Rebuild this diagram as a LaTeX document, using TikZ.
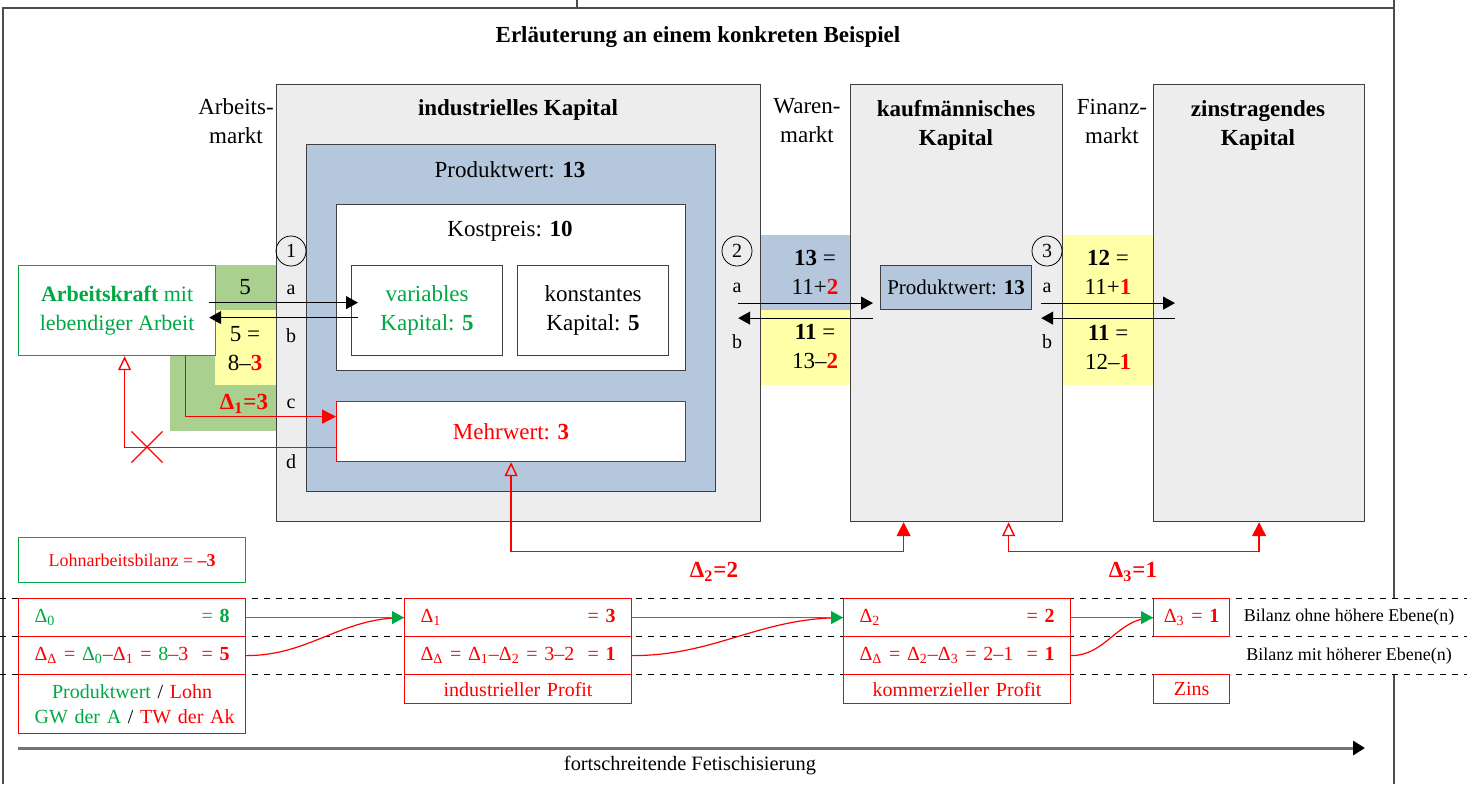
\documentclass[tikz,border=0pt]{standalone}
\usepackage{fontspec}
\setmainfont{Liberation Serif}
\usetikzlibrary{arrows.meta}
\usetikzlibrary{positioning}
\usetikzlibrary{shapes.misc}

\definecolor{kapgrau}{HTML}{EDEDED}
\definecolor{pwblau}{HTML}{B4C7DC}
\definecolor{akgruen}{HTML}{A9D08E}
\definecolor{bgelb}{HTML}{FFFFA8}
\definecolor{tgruen}{HTML}{00A844}
\definecolor{rot}{HTML}{FF0000}

\newcommand{\grund}{\fontsize{11.5}{14.5}\selectfont}
\newcommand{\dsub}[1]{Δ\textsubscript{#1}}

\tikzset{
  every node/.style={font=\grund},
  fett/.style={font=\grund\bfseries},
  klein/.style={font=\fontsize{9}{11}\selectfont},
  groesse/.style 2 args={minimum width=#1*0.5pt, minimum height=#2*0.5pt},
  kasten/.style={draw=black!75, line width=0.6pt, inner sep=0pt, anchor=north west},
  zelle/.style={draw=rot, line width=0.6pt, fill=white, text=rot, anchor=north west,
    font=\fontsize{10}{12.5}\selectfont,
    inner xsep=8pt, inner ysep=0pt, text width=97.5pt, minimum height=19pt},
  schmal/.style={zelle, inner xsep=0pt, text width=38pt, align=center},
  nummer/.style={draw, circle, minimum size=15pt, inner sep=0pt, font=\fontsize{10}{12}\selectfont},
  buchst/.style={font=\fontsize{10}{12}\selectfont},
  pfeil/.style={line width=0.6pt, -{Triangle[length=6pt,width=6.5pt]}},
  rpfeil/.style={color=rot, line width=0.7pt, -{Triangle[length=7pt,width=7pt]}},
  opfeil/.style={color=rot, line width=0.7pt, -{Triangle[open,length=7pt,width=6.5pt]}},
  gpfeil/.style={color=tgruen, line width=0.6pt, -{Triangle[length=6pt,width=6.5pt]}},
  profit/.style={color=rot, line width=0.7pt, {Triangle[open,length=7pt,width=6.5pt]}-{Triangle[length=7pt,width=7pt]}},
}

\begin{document}
\begin{tikzpicture}[x=0.5pt, y=-0.5pt]
  \useasboundingbox (0,0) rectangle (1467,784);

  % Rahmen
  \draw[black!70, line width=0.8pt] (577,0) -- (577,8);
  \draw[black!70, line width=0.8pt] (3,784) -- (3,8) -- (1394,8);
  \draw[black!70, line width=0.8pt] (1394,0) -- (1394,598);
  \draw[black!70, line width=0.8pt] (1394,674) -- (1394,784);

  \node[fett] (titel) at (698,37) {Erläuterung an einem konkreten Beispiel};

  % Maerkte
  \fill[akgruen] (170,265) rectangle (276,431);
  \fill[bgelb] (215,310) rectangle (276,385);
  \fill[pwblau] (760,235) rectangle (850,310);
  \fill[bgelb] (760,310) rectangle (850,385);
  \fill[bgelb] (1062,235) rectangle (1153,385);

  \node[align=center] (amarkt) at (236,121) {Arbeits-\\markt};
  \node[align=center] (wmarkt) at (807,121) {Waren-\\markt};
  \node[align=center] (fmarkt) at (1112,121) {Finanz-\\markt};

  % Kapitale
  \node[kasten, fill=kapgrau, groesse={484}{437}] (indk) at (276,84) {};
  \node[kasten, fill=pwblau, groesse={409}{347}] (pw) at (306,144) {};
  \node[kasten, fill=white, groesse={349}{166}] (kp) at (336,204) {};
  \node[kasten, fill=white, groesse={151}{90}, text=tgruen, align=center] (vkap) at (351,265) {variables\\Kapital: \textbf{5}};
  \node[kasten, fill=white, groesse={151}{90}, align=center] (ckap) at (517,265) {konstantes\\Kapital: \textbf{5}};
  \node[kasten, draw=rot, fill=white, groesse={349}{60}, text=rot] (mw) at (336,401) {Mehrwert: \textbf{3}};
  \node[kasten, fill=kapgrau, groesse={212}{437}] (kaufk) at (850,84) {};
  \node[kasten, fill=kapgrau, groesse={211}{437}] (zinsk) at (1153,84) {};
  \node[kasten, fill=pwblau, groesse={151}{44}, font=\fontsize{10.5}{13}\selectfont] (pw2) at (880,265) {Produktwert: \textbf{13}};

  \node[fett] (indt) at (518,110) {industrielles Kapital};
  \node (pwt) at (510,170) {Produktwert: \textbf{13}};
  \node (kpt) at (510,231) {Kostpreis: \textbf{10}};
  \node[fett, align=center] (kauft) at (956,125) {kaufmännisches\\Kapital};
  \node[fett, align=center] (zinst) at (1258,125) {zinstragendes\\Kapital};

  % Arbeitsmarkt
  \node[kasten, draw=tgruen, fill=white, groesse={197}{90}, text=tgruen, align=center, font=\fontsize{11}{14.5}\selectfont] (ak) at (18,265) {\textbf{Arbeitskraft} mit\\lebendiger Arbeit};
  \node (lohn) at (245,287) {5};
  \node[align=center] (lohnb) at (245,349) {5 =\\8–\textcolor{rot}{\textbf{3}}};
  \node[fett, text=rot] (d1) at (244,404) {\dsub{1}=3};

  % Waren- und Finanzmarkt
  \node[align=center] (wa) at (815,272) {\textbf{13} =\\11+\textcolor{rot}{\textbf{2}}};
  \node[align=center] (wb) at (815,347) {\textbf{11} =\\13–\textcolor{rot}{\textbf{2}}};
  \node[align=center] (fa) at (1108,272) {\textbf{12} =\\11+\textcolor{rot}{\textbf{1}}};
  \node[align=center] (fb) at (1108,347) {\textbf{11} =\\12–\textcolor{rot}{\textbf{1}}};

  \node[nummer] (n1) at (291,251) {1};
  \node[nummer] (n2) at (737,251) {2};
  \node[nummer] (n3) at (1047,251) {3};
  \node[buchst] (a1) at (291,290) {a};
  \node[buchst] (b1) at (291,336) {b};
  \node[buchst] (c1) at (291,404) {c};
  \node[buchst] (e1) at (291,462) {d};
  \node[buchst] (a2) at (737,288) {a};
  \node[buchst] (b2) at (737,342) {b};
  \node[buchst] (a3) at (1047,288) {a};
  \node[buchst] (b3) at (1047,342) {b};

  \draw[pfeil] ([shift={(-3.5pt,4pt)}]ak.east) -- ([shift={(3.5pt,4pt)}]vkap.west);
  \draw[pfeil] ([shift={(3.5pt,-3.5pt)}]vkap.west) -- ([shift={(-3.5pt,-3.5pt)}]ak.east);
  \draw[pfeil] ([xshift=-11.5pt]indk.east) -- ([xshift=11.5pt]kaufk.west);
  \draw[pfeil] ([shift={(11.5pt,-7.5pt)}]kaufk.west) -- ([shift={(-11.5pt,-7.5pt)}]indk.east);
  \draw[pfeil] ([xshift=-11pt]kaufk.east) -- ([xshift=11pt]zinsk.west);
  \draw[pfeil] ([shift={(11pt,-7.5pt)}]zinsk.west) -- ([shift={(-11pt,-7.5pt)}]kaufk.east);

  \draw[rpfeil] ([xshift=34.25pt]ak.south) |- ([yshift=7.5pt]mw.west);
  \draw[opfeil] ([yshift=-8pt]mw.west) -| ([xshift=3.75pt]ak.south);
  \node[cross out, draw=rot, line width=0.6pt, minimum size=15pt, inner sep=0pt] (kreuz) at (147,447) {};

  % Profitverteilung
  \draw[profit] (mw.south) -- ++(0,89) -| ([xshift=-26.5pt]kaufk.south);
  \draw[profit] ([xshift=26pt]kaufk.south) -- ++(0,29) -| (zinsk.south);
  \node[fett, text=rot] (d2) at (714,572) {\dsub{2}=2};
  \node[fett, text=rot] (d3) at (1133,572) {\dsub{3}=1};

  \node[kasten, draw=tgruen, groesse={227}{45}, text=rot, klein] (lbil) at (18,537) {Lohnarbeitsbilanz = \textbf{–3}};

  % Bilanzen
  \draw[dashed, line width=0.5pt] (0,598) -- (1467,598);
  \draw[dashed, line width=0.5pt] (0,636) -- (1467,636);
  \draw[dashed, line width=0.5pt] (0,674) -- (1467,674);

  \node[zelle, align=left] (b0a) at (18,598) {\textcolor{tgruen}{\dsub{0}\hfill= \textbf{8}}};
  \node[zelle, align=left] (b0b) at (18,636) {\mbox{\dsub{Δ} = \textcolor{tgruen}{\dsub{0}}–\dsub{1} = \textcolor{tgruen}{8}–3}\hfill= \textbf{5}};
  \node[zelle, align=center, minimum height=29.5pt] (b0c) at (18,674) {\textcolor{tgruen}{Produktwert} \textcolor{black}{/} Lohn\\\mbox{\textcolor{tgruen}{GW der A} \textcolor{black}{/} TW der Ak}};

  \node[zelle, align=left] (b1a) at (404,598) {\dsub{1}\hfill= \textbf{3}};
  \node[zelle, align=left] (b1b) at (404,636) {\mbox{\dsub{Δ} = \dsub{1}–\dsub{2} = 3–2}\hfill= \textbf{1}};
  \node[zelle, align=center, minimum height=14.5pt] (b1c) at (404,674) {industrieller Profit};

  \node[zelle, align=left] (b2a) at (843,598) {\dsub{2}\hfill= \textbf{2}};
  \node[zelle, align=left] (b2b) at (843,636) {\mbox{\dsub{Δ} = \dsub{2}–\dsub{3} = 2–1}\hfill= \textbf{1}};
  \node[zelle, align=center, minimum height=14.5pt] (b2c) at (843,674) {kommerzieller Profit};

  \node[schmal] (b3a) at (1153,598) {\dsub{3} = \textbf{1}};
  \node[schmal, minimum height=14.5pt] (b3c) at (1153,674) {Zins};

  \node[klein] (ohne) at (1349,617) {Bilanz ohne höhere Ebene(n)};
  \node[klein] (mit) at (1349,656) {Bilanz mit höherer Ebene(n)};

  \draw[rot, line width=0.6pt] (b0b.east) to[out=0, in=180] (b1a.west);
  \draw[rot, line width=0.6pt] (b1b.east) to[out=0, in=180] (b2a.west);
  \draw[rot, line width=0.6pt] (b2b.east) to[out=0, in=180] (b3a.west);
  \draw[gpfeil] (b0a.east) -- (b1a.west);
  \draw[gpfeil] (b1a.east) -- (b2a.west);
  \draw[gpfeil] (b2a.east) -- (b3a.west);

  % Fetischisierung
  \coordinate (fs0) at (18,748);
  \coordinate (fs1) at (1365,748);
  \draw[black!55, line width=1.5pt, -{Triangle[length=6pt,width=7pt,color=black]}] (fs0) -- (fs1);
  \node[font=\fontsize{10.2}{12}\selectfont] (fsl) at (690,765) {fortschreitende Fetischisierung};
\end{tikzpicture}
\end{document}
